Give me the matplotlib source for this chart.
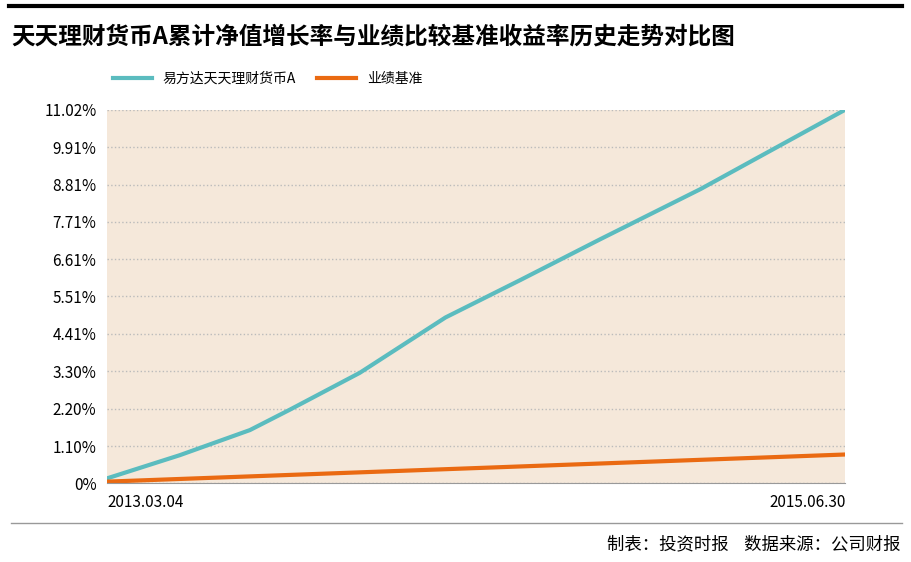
import matplotlib
matplotlib.use("Agg")
import matplotlib.pyplot as plt
from matplotlib.lines import Line2D

plt.rcParams['font.family'] = ['Noto Sans CJK SC', 'DejaVu Sans']

# x position as fraction of the period 2013.03.04 - 2015.06.30
x_pos = [0, 0.098, 0.193, 0.247, 0.342, 0.458, 0.560, 0.668, 0.804, 1.0]
fund = [0.15, 0.83, 1.57, 2.17, 3.26, 4.89, 6.0, 7.2, 8.68, 11.02]
bench_x = [0, 1.0]
bench = [0.05, 0.85]
yticks = [0, 1.10, 2.20, 3.30, 4.41, 5.51, 6.61, 7.71, 8.81, 9.91, 11.02]
ylabels = ['0%', '1.10%', '2.20%', '3.30%', '4.41%', '5.51%', '6.61%', '7.71%', '8.81%', '9.91%', '11.02%']

fig = plt.figure(figsize=(9.11, 5.62), dpi=100)
ax = fig.add_axes([0.118, 0.14, 0.81, 0.665])
ax.set_facecolor('#f5e8da')
ax.plot(x_pos, fund, color='#5bbcbf', linewidth=3, label='易方达天天理财货币A')
ax.plot(bench_x, bench, color='#ea6a12', linewidth=3, label='业绩基准')
ax.set_xlim(0, 1)
ax.set_ylim(0, 11.02)
ax.set_yticks(yticks)
ax.set_yticklabels(ylabels, fontsize=11)
ax.set_xticks([0, 1])
xl = ax.set_xticklabels(['2013.03.04', '2015.06.30'], fontsize=11)
xl[0].set_ha('left')
xl[1].set_ha('right')
ax.tick_params(length=0, pad=8)
ax.grid(axis='y', color='#bbbbbb', linestyle=':', linewidth=1)
for s in ['top', 'right', 'left']:
    ax.spines[s].set_visible(False)
ax.spines['bottom'].set_color('#999999')

fig.add_artist(Line2D([0.01, 0.99], [0.99, 0.99], color='black', linewidth=3))
fig.text(0.012, 0.935, '天天理财货币A累计净值增长率与业绩比较基准收益率历史走势对比图',
         fontsize=17, fontweight='bold', va='center')
fig.legend(loc='upper left', bbox_to_anchor=(0.11, 0.895), ncol=2, frameon=False,
           fontsize=10, handlelength=2.8, columnspacing=1.5)
fig.add_artist(Line2D([0.012, 0.99], [0.07, 0.07], color='#999999', linewidth=1))
fig.text(0.988, 0.032, '制表：投资时报    数据来源：公司财报', fontsize=12.5, ha='right', va='center')

fig.savefig('out.png')
